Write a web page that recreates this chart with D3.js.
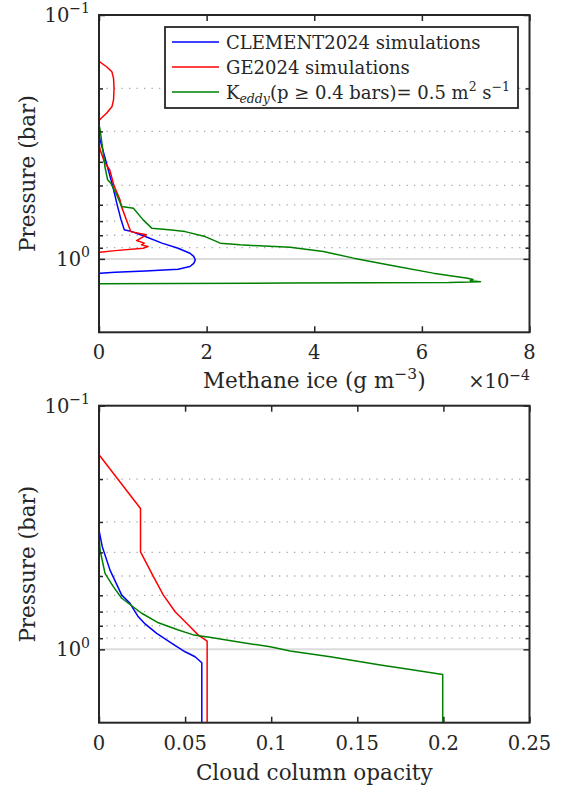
<!DOCTYPE html>
<html><head><meta charset="utf-8">
<script src="https://cdn.jsdelivr.net/npm/d3@7"></script>
<style>
body{margin:0;background:#fff}
svg{display:block}
text{font-family:"DejaVu Serif","Liberation Serif",serif;fill:#262626}
</style>
</head><body>
<svg id="chart" width="566" height="789"></svg>
<script>
// ---------- DATA ----------
// Top panel: methane ice (x 1e-4 g m^-3) vs pressure (bar)
const iceBlueP = [0.1, 0.3, 0.325, 0.399, 0.498, 0.591, 0.692, 0.760, 0.773, 0.810, 0.862, 0.904, 0.948, 0.977, 1.01, 1.043, 1.075, 1.102, 1.12, 1.134, 1.144, 1.15, 2.0];
const iceBlueV = [0, 0, 0.02, 0.13, 0.25, 0.33, 0.41, 0.47, 0.61, 0.86, 1.17, 1.47, 1.69, 1.76, 1.79, 1.76, 1.69, 1.47, 0.86, 0.30, 0.02, 0, 0];

const iceRedP = [0.1, 0.155, 0.163, 0.171, 0.182, 0.2, 0.223, 0.238, 0.253, 0.265, 0.271, 0.335, 0.357, 0.4, 0.432, 0.502, 0.573, 0.612, 0.692, 0.773, 0.797, 0.841, 0.862, 0.876, 0.890, 0.904, 0.925, 0.939, 0.945, 2.0];
const iceRedV = [0, 0, 0.14, 0.24, 0.27, 0.28, 0.27, 0.24, 0.14, 0.04, 0, 0, 0.02, 0.10, 0.2, 0.28, 0.39, 0.42, 0.51, 0.59, 0.88, 0.70, 0.84, 0.79, 0.91, 0.82, 0.30, 0.02, 0, 0];

const iceGreenP = [0.1, 0.28, 0.296, 0.369, 0.419, 0.474, 0.49, 0.547, 0.61, 0.62, 0.692, 0.748, 0.762, 0.773, 0.81, 0.85, 0.862, 0.876, 0.896, 0.933, 0.993, 1.075, 1.144, 1.2, 1.215, 1.228, 1.24, 1.25, 1.257, 1.266, 2.0];
const iceGreenV = [0, 0, 0.02, 0.08, 0.11, 0.16, 0.22, 0.33, 0.42, 0.64, 0.82, 0.98, 1.35, 1.6, 1.97, 2.19, 2.25, 2.62, 3.55, 4.17, 4.73, 5.54, 6.21, 6.85, 6.95, 6.9, 7.09, 6.5, 3.5, 0, 0];

// Bottom panel: cloud column opacity vs pressure (bar)
const opBlueP = [0.1, 0.324, 0.379, 0.473, 0.599, 0.647, 0.735, 0.782, 0.86, 0.945, 1.023, 1.072, 1.135, 2.0];
const opBlueV = [0, 0, 0.0019, 0.0064, 0.0132, 0.018, 0.0228, 0.0264, 0.0335, 0.0423, 0.050, 0.0558, 0.0597, 0.0597];

const opRedP = [0.1, 0.159, 0.264, 0.398, 0.503, 0.599, 0.701, 0.795, 0.874, 0.925, 2.0];
const opRedV = [0, 0, 0.0241, 0.0241, 0.0316, 0.0374, 0.0442, 0.0519, 0.0577, 0.0628, 0.0628];

const opGreenP = [0.3, 0.339, 0.391, 0.488, 0.553, 0.617, 0.711, 0.778, 0.833, 0.874, 0.894, 0.931, 0.976, 1.016, 1.072, 1.16, 1.205, 1.267, 2.0];
const opGreenV = [0, 0, 0.0006, 0.0035, 0.0083, 0.0132, 0.0248, 0.0345, 0.0461, 0.0552, 0.0651, 0.0802, 0.0994, 0.111, 0.1343, 0.1634, 0.1789, 0.1996, 0.1996];

const seriesNames = ["CLEMENT2024 simulations", "GE2024 simulations", "Keddy"];
const seriesColors = ["#0000ff", "#ff0000", "#008000"];

const iceTicks = [0, 2, 4, 6, 8];
const iceTickLabels = ["0", "2", "4", "6", "8"];
const opTicks = [0, 0.05, 0.1, 0.15, 0.2, 0.25];
const opTickLabels = ["0", "0.05", "0.1", "0.15", "0.2", "0.25"];
const pMajor = [0.1, 1];
const pMajorExp = ["\u22121", "0"];
const pMinor = [0.2, 0.3, 0.4, 0.5, 0.6, 0.7, 0.8, 0.9];
const pDomain = [0.1, 2];

// ---------- DRAW ----------
const svg = d3.select("#chart");
const X0 = 99, X1 = 529.5;
const axisColor = "#262626";
const FT = 19.5, FL = 21.5, FG = 18;

const panels = [
  {top: 15, bot: 332.3, xDomain: [0, 8], ticks: iceTicks, labels: iceTickLabels,
   series: [[iceBlueP, iceBlueV], [iceRedP, iceRedV], [iceGreenP, iceGreenV]],
   xlabel: "ice", tickBase: 359, labelBase: 388},
  {top: 405.7, bot: 722.7, xDomain: [0, 0.25], ticks: opTicks, labels: opTickLabels,
   series: [[opBlueP, opBlueV], [opRedP, opRedV], [opGreenP, opGreenV]],
   xlabel: "op", tickBase: 750, labelBase: 780}
];

function pow10(g, x, y, exp, size) {
  const t = g.append("text").attr("x", x).attr("y", y).attr("text-anchor", "end")
    .style("font-size", size + "px");
  t.append("tspan").text("10");
  t.append("tspan").attr("dy", -0.45 * size).style("font-size", (size * 0.72) + "px").text(exp);
  return t;
}

panels.forEach((P, i) => {
  const g = svg.append("g");
  const x = d3.scaleLinear().domain(P.xDomain).range([X0, X1]);
  const y = d3.scaleLog().domain(pDomain).range([P.top, P.bot]);

  // grid
  g.selectAll(".minor").data(pMinor).join("line")
    .attr("x1", X0).attr("x2", X1).attr("y1", d => y(d)).attr("y2", d => y(d))
    .attr("stroke", "#a8a8a8").attr("stroke-width", 1.3).attr("stroke-dasharray", "1.3,6.2");
  g.append("line").attr("x1", X0).attr("x2", X1).attr("y1", y(1)).attr("y2", y(1))
    .attr("stroke", "#dcdcdc").attr("stroke-width", 2);

  // clip
  const cid = "clip" + i;
  svg.append("clipPath").attr("id", cid).append("rect")
    .attr("x", X0).attr("y", P.top).attr("width", X1 - X0).attr("height", P.bot - P.top);

  const line = d3.line().x(d => x(d[1])).y(d => y(d[0]));
  P.series.forEach((s, k) => {
    const pts = s[0].map((p, j) => [p, s[1][j]]);
    g.append("path").datum(pts).attr("d", line).attr("fill", "none")
      .attr("stroke", seriesColors[k]).attr("stroke-width", 1.5)
      .attr("stroke-linejoin", "round").attr("clip-path", `url(#${cid})`);
  });

  // axes with inside ticks
  const axB = d3.axisBottom(x).tickValues(P.ticks).tickSize(-6).tickFormat("");
  const axT = d3.axisTop(x).tickValues(P.ticks).tickSize(-6).tickFormat("");
  const axL = d3.axisLeft(y).tickValues(pMajor).tickSize(-6).tickFormat("");
  const axR = d3.axisRight(y).tickValues(pMajor).tickSize(-6).tickFormat("");
  const axLm = d3.axisLeft(y).tickValues(pMinor).tickSize(-4).tickFormat("");
  const axRm = d3.axisRight(y).tickValues(pMinor).tickSize(-4).tickFormat("");
  const style = sel => {
    sel.select(".domain").remove();
    sel.selectAll("line").attr("stroke", axisColor).attr("stroke-width", 1.5);
  };
  g.append("g").attr("transform", `translate(0,${P.bot})`).call(axB).call(style);
  g.append("g").attr("transform", `translate(0,${P.top})`).call(axT).call(style);
  g.append("g").attr("transform", `translate(${X0},0)`).call(axL).call(style);
  g.append("g").attr("transform", `translate(${X1},0)`).call(axR).call(style);
  g.append("g").attr("transform", `translate(${X0},0)`).call(axLm).call(style);
  g.append("g").attr("transform", `translate(${X1},0)`).call(axRm).call(style);

  g.append("rect").attr("x", X0).attr("y", P.top).attr("width", X1 - X0).attr("height", P.bot - P.top)
    .attr("fill", "none").attr("stroke", axisColor).attr("stroke-width", 2);

  // tick labels
  g.selectAll(".xl").data(P.ticks).join("text")
    .attr("x", d => x(d)).attr("y", P.tickBase).attr("text-anchor", "middle")
    .style("font-size", FT + "px").text((d, j) => P.labels[j]);
  pMajor.forEach((p, j) => pow10(g, 90, y(p) + 7, pMajorExp[j], FT));

  // y label
  g.append("text").attr("transform", `translate(35,${(P.top + P.bot) / 2}) rotate(-90)`)
    .attr("text-anchor", "middle").style("font-size", FL + "px").text("Pressure (bar)");

  // x label
  if (P.xlabel === "ice") {
    const t = g.append("text").attr("x", (X0 + X1) / 2).attr("y", P.labelBase)
      .attr("text-anchor", "middle").style("font-size", FL + "px");
    t.append("tspan").text("Methane ice (g m");
    t.append("tspan").attr("dy", -9).style("font-size", "15.5px").text("\u22123");
    t.append("tspan").attr("dy", 9).text(")");
    const m = g.append("text").attr("x", 530).attr("y", P.labelBase)
      .attr("text-anchor", "end").style("font-size", FT + "px");
    m.append("tspan").text("\u00d710");
    m.append("tspan").attr("dy", -8.5).style("font-size", "14px").text("\u22124");
  } else {
    g.append("text").attr("x", (X0 + X1) / 2).attr("y", P.labelBase)
      .attr("text-anchor", "middle").style("font-size", FL + "px").text("Cloud column opacity");
  }
});

// legend
const lg = svg.append("g");
lg.append("rect").attr("x", 165).attr("y", 27).attr("width", 353).attr("height", 81)
  .attr("fill", "#fff").attr("stroke", axisColor).attr("stroke-width", 1.8);
const ly = [42, 67, 92];
seriesColors.forEach((c, k) => {
  lg.append("line").attr("x1", 172).attr("x2", 219).attr("y1", ly[k]).attr("y2", ly[k])
    .attr("stroke", c).attr("stroke-width", 1.5);
});
lg.append("text").attr("x", 226).attr("y", ly[0] + 6.5).style("font-size", FG + "px").text(seriesNames[0]);
lg.append("text").attr("x", 226).attr("y", ly[1] + 6.5).style("font-size", FG + "px").text(seriesNames[1]);
const t3 = lg.append("text").attr("x", 226).attr("y", ly[2] + 6.5).style("font-size", FG + "px");
t3.append("tspan").text("K");
t3.append("tspan").attr("dy", 4.5).style("font-size", "12.5px").style("font-style", "italic").text("eddy");
t3.append("tspan").attr("dy", -4.5).text("(p \u2265 0.4 bars)= 0.5 m");
t3.append("tspan").attr("dy", -7.5).style("font-size", "12.5px").text("2");
t3.append("tspan").attr("dy", 7.5).text(" s");
t3.append("tspan").attr("dy", -7.5).style("font-size", "12.5px").text("\u22121");
</script>
</body></html>
